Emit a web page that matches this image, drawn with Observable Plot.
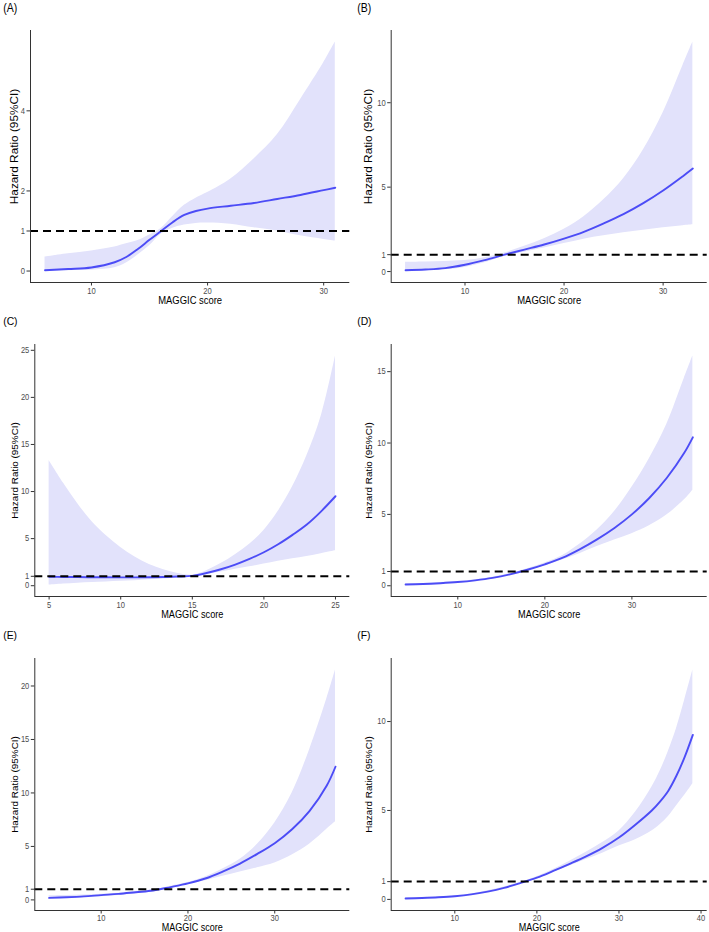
<!DOCTYPE html>
<html>
<head>
<meta charset="utf-8">
<script src="https://cdn.jsdelivr.net/npm/d3@7"></script>
<script src="https://cdn.jsdelivr.net/npm/@observablehq/plot@0.6"></script>
<style>
  body { margin: 0; background: #ffffff; }
  #grid { position: relative; width: 709px; height: 932px; background: #ffffff; overflow: hidden; }
  .panel { position: absolute; }
</style>
</head>
<body>
<div id="grid"></div>
<script>
// ---------- data ----------
const xLabel = "MAGGIC score";
const yLabel = "Hazard Ratio (95%CI)";
const refHR = [1];

// Panel A
const xA  = [6, 8, 10, 12, 13, 14, 15, 16, 17, 18, 19, 20, 22, 24, 26, 28, 30, 31];
const hrA = [0.02, 0.05, 0.09, 0.22, 0.35, 0.55, 0.78, 1.0, 1.22, 1.4, 1.5, 1.56, 1.63, 1.7, 1.8, 1.9, 2.02, 2.08];
const hiA = [0.35, 0.43, 0.5, 0.6, 0.68, 0.76, 0.9, 1.06, 1.36, 1.64, 1.82, 1.96, 2.3, 2.8, 3.4, 4.28, 5.2, 5.72];
const loA = [0.0, 0.01, 0.02, 0.08, 0.2, 0.4, 0.63, 0.92, 1.07, 1.15, 1.19, 1.2, 1.17, 1.08, 1.0, 0.88, 0.79, 0.75];
const xTicksA = [10, 20, 30];
const yTicksA = [0, 1, 2, 4];

// Panel B
const xB  = [4, 6, 8, 10, 12, 14, 16, 18, 20, 22, 24, 26, 28, 30, 32, 33];
const hrB = [0.08, 0.12, 0.2, 0.4, 0.68, 1.0, 1.3, 1.6, 1.95, 2.35, 2.85, 3.4, 4.05, 4.8, 5.65, 6.1];
const hiB = [0.55, 0.57, 0.6, 0.65, 0.82, 1.1, 1.5, 1.95, 2.5, 3.25, 4.25, 5.5, 7.2, 9.4, 12.2, 13.6];
const loB = [0.03, 0.05, 0.1, 0.24, 0.52, 0.9, 1.15, 1.4, 1.66, 1.92, 2.12, 2.3, 2.45, 2.6, 2.72, 2.77];
const xTicksB = [10, 20, 30];
const yTicksB = [0, 1, 5, 10];

// Panel C
const xC  = [5, 6, 7, 8, 9, 10, 11, 12, 13, 14, 15, 16, 17, 18, 19, 20, 21, 22, 23, 24, 25];
const hrC = [0.95, 0.93, 0.92, 0.9, 0.89, 0.88, 0.88, 0.89, 0.92, 0.97, 1.05, 1.35, 1.75, 2.25, 2.85, 3.55, 4.4, 5.4, 6.5, 7.9, 9.5];
const hiC = [13.3, 10.9, 8.7, 6.8, 5.3, 4.05, 3.05, 2.25, 1.7, 1.3, 1.12, 1.6, 2.35, 3.3, 4.4, 5.85, 7.9, 10.5, 13.8, 18.0, 24.4];
const loC = [0.07, 0.18, 0.27, 0.35, 0.4, 0.46, 0.53, 0.62, 0.72, 0.85, 0.99, 1.2, 1.45, 1.75, 2.0, 2.3, 2.6, 2.85, 3.1, 3.4, 3.7];
const xTicksC = [5, 10, 15, 20, 25];
const yTicksC = [0, 1, 5, 10, 15, 20, 25];

// Panel D
const xD  = [4, 6, 8, 10, 12, 14, 16, 18, 20, 22, 24, 26, 28, 30, 32, 34, 36, 37];
const hrD = [0.09, 0.12, 0.18, 0.26, 0.38, 0.55, 0.8, 1.12, 1.5, 1.95, 2.55, 3.25, 4.05, 5.0, 6.15, 7.55, 9.3, 10.4];
const hiD = [0.14, 0.16, 0.22, 0.3, 0.42, 0.6, 0.86, 1.2, 1.6, 2.1, 2.9, 3.9, 5.2, 6.9, 8.9, 11.3, 14.5, 16.1];
const loD = [0.05, 0.08, 0.14, 0.22, 0.34, 0.5, 0.75, 1.05, 1.4, 1.8, 2.25, 2.75, 3.2, 3.65, 4.2, 4.95, 6.0, 6.7];
const xTicksD = [10, 20, 30];
const yTicksD = [0, 1, 5, 10, 15];

// Panel E
const xE  = [4, 6, 8, 10, 12, 14, 16, 18, 20, 22, 24, 26, 28, 30, 32, 34, 36, 37];
const hrE = [0.19, 0.25, 0.33, 0.45, 0.56, 0.72, 0.88, 1.2, 1.55, 2.0, 2.65, 3.4, 4.3, 5.3, 6.6, 8.3, 10.7, 12.45];
const hiE = [0.38, 0.4, 0.45, 0.52, 0.62, 0.78, 0.95, 1.28, 1.62, 2.15, 2.9, 3.8, 5.2, 7.2, 10.0, 14.0, 18.8, 21.5];
const loE = [0.08, 0.13, 0.2, 0.3, 0.42, 0.58, 0.8, 1.1, 1.42, 1.8, 2.2, 2.6, 3.0, 3.45, 4.2, 5.2, 6.6, 7.3];
const xTicksE = [10, 20, 30];
const yTicksE = [0, 1, 5, 10, 15, 20];

// Panel F
const xF  = [4, 6, 8, 10, 12, 14, 16, 18, 20, 22, 24, 26, 28, 30, 32, 34, 35, 36, 37, 38, 39];
const hrF = [0.05, 0.08, 0.12, 0.18, 0.28, 0.44, 0.65, 0.92, 1.22, 1.6, 2.0, 2.42, 2.9, 3.48, 4.2, 5.0, 5.5, 6.1, 6.95, 8.0, 9.25];
const hiF = [0.08, 0.1, 0.14, 0.21, 0.31, 0.48, 0.7, 0.97, 1.28, 1.68, 2.15, 2.65, 3.2, 3.85, 4.9, 6.3, 7.2, 8.3, 9.6, 11.2, 12.9];
const loF = [0.02, 0.05, 0.09, 0.15, 0.25, 0.4, 0.6, 0.87, 1.16, 1.52, 1.88, 2.25, 2.6, 3.0, 3.35, 3.85, 4.2, 4.65, 5.25, 5.85, 6.5];
const xTicksF = [10, 20, 30, 40];
const yTicksF = [0, 1, 5, 10];

const tags = ["(A)", "(B)", "(C)", "(D)", "(E)", "(F)"];

// ---------- drawing ----------
const font = "'Liberation Sans', Arial, Helvetica, sans-serif";

// text styles per row (the top row of the reference is vertically stretched)
const rowStyles = [
  {tickFont: 9.3, tickPadding: 1,   titleFont: 11.5, yTitleFont: 11.8, tagFont: 12.8, squeeze: 0.82, yTitleDy: -10, xTitleDy: 18.3},
  {tickFont: 8.4, tickPadding: 2,   titleFont: 10.2, yTitleFont: 9.9,  tagFont: 11.5, squeeze: 0.9,  yTitleDy: 0,   xTitleDy: 18.3},
  {tickFont: 8.4, tickPadding: 1.5, titleFont: 10,   yTitleFont: 9.9,  tagFont: 11.5, squeeze: 0.9,  yTitleDy: 0,   xTitleDy: 17.6}
];

function expand([a, b]) {
  const pad = (b - a) * 0.05;
  return [a - pad, b + pad];
}

function panel(cfg) {
  const {tag, x, hr, lo, hi, xTicks, yTicks, width, height, marginLeft, marginRight, st} = cfg;
  const rows = x.map((d, i) => ({x: d, hr: hr[i], lo: lo[i], hi: hi[i]}));
  const xd = expand(d3.extent(x));
  const yd = expand([Math.min(d3.min(lo), 1), Math.max(d3.max(hi), 1)]);
  const marginTop = 30;
  const marginBottom = height - 282;
  return Plot.plot({
    width, height, marginTop, marginBottom, marginLeft, marginRight,
    style: {fontFamily: font, background: "#ffffff", color: "#000000", overflow: "visible"},
    x: {domain: xd},
    y: {domain: yd},
    marks: [
      Plot.areaY(rows, {x: "x", y1: "lo", y2: "hi", fill: "#e2e2fb", curve: "catmull-rom"}),
      Plot.lineY(rows, {x: "x", y: "hr", stroke: "#4c4cf6", strokeWidth: 1.9, curve: "catmull-rom"}),
      Plot.ruleY(refHR, {stroke: "#000000", strokeWidth: 2, strokeDasharray: "8,5"}),
      Plot.ruleX([xd[0]], {stroke: "#333333", strokeWidth: 1}),
      Plot.ruleY([yd[0]], {stroke: "#333333", strokeWidth: 1}),
      Plot.axisX(xTicks, {tickSize: 3.5, tickPadding: st.tickPadding, fontSize: st.tickFont, fill: "#4d4d4d", stroke: "#333333", label: null}),
      Plot.axisY(yTicks, {tickSize: 3.5, tickPadding: 2, fontSize: st.tickFont, fill: "#4d4d4d", stroke: "#333333", label: null}),
      Plot.text([xLabel], {frameAnchor: "bottom", dy: st.xTitleDy, fontSize: st.titleFont, fill: "#000000", lineAnchor: "middle", textAnchor: "middle", text: d => d}),
      Plot.text([yLabel], {frameAnchor: "left", dx: 14 - marginLeft, dy: st.yTitleDy, rotate: -90, fontSize: st.yTitleFont, fill: "#000000", lineAnchor: "middle", textAnchor: "middle", text: d => d}),
      Plot.text([tag], {frameAnchor: "top-left", dx: 2.7 - marginLeft, dy: -22.8, textAnchor: "start", lineAnchor: "middle", fontSize: st.tagFont, fill: "#000000", text: d => d})
    ]
  });
}

const panels = [
  {tag: tags[0], x: xA, hr: hrA, lo: loA, hi: hiA, xTicks: xTicksA, yTicks: yTicksA, left: 0,   top: 0,   width: 354, height: 314, marginLeft: 30,   marginRight: 4.7, st: rowStyles[0]},
  {tag: tags[1], x: xB, hr: hrB, lo: loB, hi: hiB, xTicks: xTicksB, yTicks: yTicksB, left: 354, top: 0,   width: 355, height: 314, marginLeft: 36.7, marginRight: 2.3, st: rowStyles[0]},
  {tag: tags[2], x: xC, hr: hrC, lo: loC, hi: hiC, xTicks: xTicksC, yTicks: yTicksC, left: 0,   top: 314, width: 354, height: 314, marginLeft: 34.3, marginRight: 4.7, st: rowStyles[1]},
  {tag: tags[3], x: xD, hr: hrD, lo: loD, hi: hiD, xTicks: xTicksD, yTicks: yTicksD, left: 354, top: 314, width: 355, height: 314, marginLeft: 36.7, marginRight: 2.3, st: rowStyles[1]},
  {tag: tags[4], x: xE, hr: hrE, lo: loE, hi: hiE, xTicks: xTicksE, yTicks: yTicksE, left: 0,   top: 628, width: 354, height: 304, marginLeft: 34.3, marginRight: 4.7, st: rowStyles[2]},
  {tag: tags[5], x: xF, hr: hrF, lo: loF, hi: hiF, xTicks: xTicksF, yTicks: yTicksF, left: 354, top: 628, width: 355, height: 304, marginLeft: 36.7, marginRight: 2.3, st: rowStyles[2]}
];

const grid = document.getElementById("grid");
for (const cfg of panels) {
  const div = document.createElement("div");
  div.className = "panel";
  div.style.left = cfg.left + "px";
  div.style.top = cfg.top + "px";
  const svg = panel(cfg);
  div.appendChild(svg);
  grid.appendChild(div);
  if (cfg.st.squeeze !== 1) {
    // the reference lettering is horizontally narrow
    svg.querySelectorAll("text").forEach(t => {
      const tr = t.getAttribute("transform") || "";
      if (/rotate/.test(tr)) return;
      const len = t.getComputedTextLength();
      if (len > 0) {
        t.setAttribute("textLength", (len * cfg.st.squeeze).toFixed(2));
        t.setAttribute("lengthAdjust", "spacingAndGlyphs");
      }
    });
  }
}
</script>
</body>
</html>
